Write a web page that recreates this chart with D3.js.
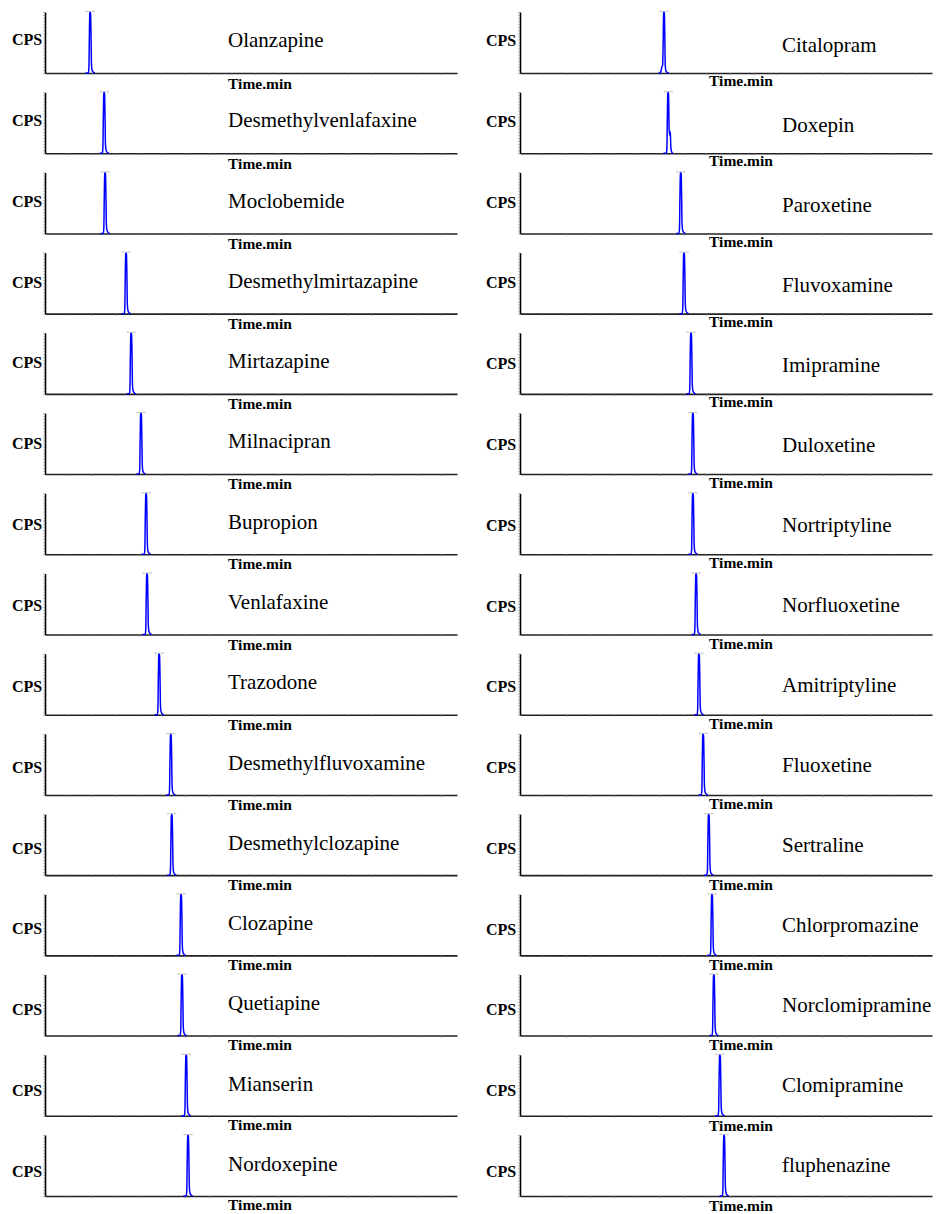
<!DOCTYPE html>
<html>
<head>
<meta charset="utf-8">
<script src="https://cdn.jsdelivr.net/npm/d3@7"></script>
<style>
  html, body { margin: 0; padding: 0; background: #fff; }
  svg { display: block; }
</style>
</head>
<body>
<script>
// ---------------- DATA ----------------
const leftNames = ["Olanzapine","Desmethylvenlafaxine","Moclobemide","Desmethylmirtazapine","Mirtazapine",
  "Milnacipran","Bupropion","Venlafaxine","Trazodone","Desmethylfluvoxamine",
  "Desmethylclozapine","Clozapine","Quetiapine","Mianserin","Nordoxepine"];
const leftTimes = [0.97, 1.27, 1.29, 1.74, 1.85, 2.06, 2.17, 2.19, 2.45, 2.70, 2.72, 2.92, 2.94, 3.03, 3.07];

const rightNames = ["Citalopram","Doxepin","Paroxetine","Fluvoxamine","Imipramine",
  "Duloxetine","Nortriptyline","Norfluoxetine","Amitriptyline","Fluoxetine",
  "Sertraline","Chlorpromazine","Norclomipramine","Clomipramine","fluphenazine"];
const rightTimes = [3.09, 3.18, 3.45, 3.52, 3.67, 3.71, 3.71, 3.78, 3.84, 3.93, 4.05, 4.12, 4.16, 4.29, 4.38];

// peak shapes: [offset from apex (min), relative intensity]
const profileStd = [[-0.10,0],[-0.04,0],[-0.028,0.08],[-0.018,0.6],[-0.008,0.98],[0,1],[0.008,0.97],[0.018,0.6],[0.027,0.15],[0.04,0.05],[0.065,0.015],[0.10,0]];
const profileCitalopram = [[-0.12,0],[-0.08,0],[-0.06,0.05],[-0.045,0.1],[-0.03,0.13],[-0.018,0.5],[-0.008,0.98],[0,1],[0.008,0.97],[0.018,0.55],[0.027,0.12],[0.04,0.04],[0.065,0.01],[0.10,0]];
const profileDoxepin = [[-0.10,0],[-0.04,0],[-0.028,0.08],[-0.018,0.6],[-0.008,0.98],[0,1],[0.008,0.95],[0.018,0.45],[0.028,0.3],[0.036,0.36],[0.046,0.32],[0.058,0.08],[0.075,0.02],[0.10,0]];
const specialProfiles = {"Citalopram": profileCitalopram, "Doxepin": profileDoxepin};

const xDomain = [0, 8.84];        // minutes
const xTickValues = d3.range(0.5, 8.84, 0.5);
const yLabel = "CPS";
const xLabel = "Time.min";

// ---------------- LAYOUT ----------------
const W = 936, H = 1214;
const plotH = 61;
const nRows = 15;
const baseY = d3.scaleLinear().domain([0, nRows - 1]).range([73, 1196]);

const columns = [
  { names: leftNames, times: leftTimes, x0: 45, x1: 457, cpsX: 12, nameX: 228, timeX: 260,
    cpsY: d3.scaleLinear().domain([0,14]).range([40,1172]),
    nameY: d3.scaleLinear().domain([0,14]).range([40,1164]),
    timeY: d3.scaleLinear().domain([0,14]).range([84,1205]) },
  { names: rightNames, times: rightTimes, x0: 520, x1: 932, cpsX: 486, nameX: 782, timeX: 741,
    cpsY: d3.scaleLinear().domain([0,14]).range([41,1172]),
    nameY: d3.scaleLinear().domain([0,14]).range([45,1165]),
    timeY: d3.scaleLinear().domain([0,14]).range([81,1206]) }
];

const svg = d3.select("body").append("svg").attr("width", W).attr("height", H);
svg.append("rect").attr("width", W).attr("height", H).attr("fill", "#fff");

const serif = "'Liberation Serif', 'Times New Roman', serif";

columns.forEach(col => {
  const x = d3.scaleLinear().domain(xDomain).range([col.x0, col.x1]);
  col.names.forEach((name, i) => {
    const base = baseY(i);
    const y = d3.scaleLinear().domain([0, 1]).range([base, base - plotH]);
    const g = svg.append("g");

    // x axis
    const xa = g.append("g").attr("transform", `translate(0,${base})`)
      .call(d3.axisBottom(x).tickValues(xTickValues).tickSize(2).tickSizeOuter(0).tickFormat(""));
    xa.select(".domain").attr("stroke", "#222").attr("stroke-width", 1.6);
    xa.selectAll(".tick line").attr("stroke", "#777").attr("stroke-width", 0.8);

    // y axis
    const ya = g.append("g").attr("transform", `translate(${col.x0},0)`)
      .call(d3.axisLeft(y).ticks(20).tickSize(2).tickSizeOuter(0).tickFormat(""));
    ya.select(".domain").attr("stroke", "#000").attr("stroke-width", 1.6);
    ya.selectAll(".tick line").attr("stroke", "#888").attr("stroke-width", 0.6);

    // trace
    const t = col.times[i];
    const prof = specialProfiles[name] || profileStd;
    const pts = prof.map(([dt, h]) => [t + dt, h]);
    const line = d3.line().x(d => x(d[0])).y(d => y(d[1])).curve(d3.curveMonotoneX);
    g.append("path").attr("d", line(pts)).attr("fill", "none")
      .attr("stroke", "#0000ff").attr("stroke-width", 1.5).attr("stroke-linejoin", "round");

    // apex marker (small grey annotation bar)
    const ax = x(t), ay = y(1) - 0.5;
    g.append("path")
      .attr("d", `M${ax-4},${ay}H${ax+4}M${ax-4},${ay-0.8}V${ay+0.8}M${ax+4},${ay-0.8}V${ay+0.8}`)
      .attr("stroke", "#aaa").attr("stroke-width", 0.6).attr("fill", "none");

    // labels
    g.append("text").attr("x", col.cpsX).attr("y", col.cpsY(i) + 5)
      .attr("font-family", serif).attr("font-weight", "bold").attr("font-size", 16)
      .attr("fill", "#000").text(yLabel);
    g.append("text").attr("x", col.timeX).attr("y", col.timeY(i) + 5).attr("text-anchor", "middle")
      .attr("font-family", serif).attr("font-weight", "bold").attr("font-size", 15.5)
      .attr("fill", "#000").text(xLabel);
    g.append("text").attr("x", col.nameX).attr("y", col.nameY(i) + 7)
      .attr("font-family", serif).attr("font-size", 21)
      .attr("fill", "#000").text(name);
  });
});
</script>
</body>
</html>
